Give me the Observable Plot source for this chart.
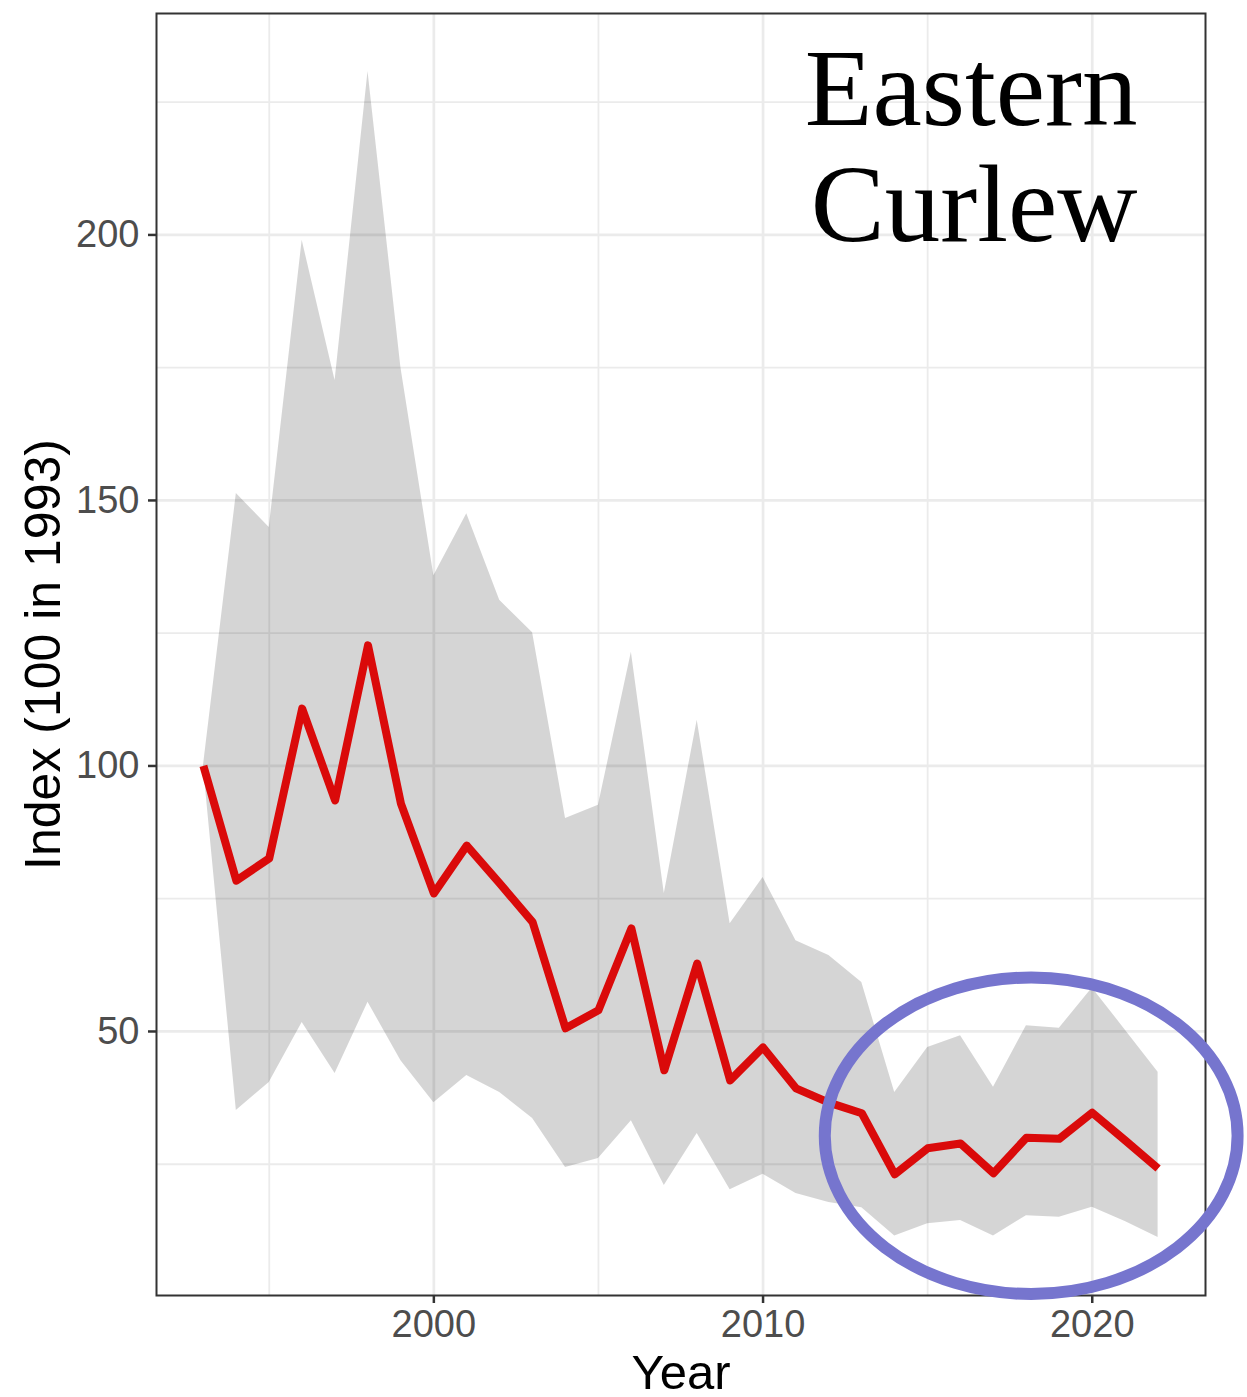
<!DOCTYPE html>
<html>
<head>
<meta charset="utf-8">
<script src="https://cdn.jsdelivr.net/npm/d3@7"></script>
<script src="https://cdn.jsdelivr.net/npm/@observablehq/plot@0.6"></script>
<style>
  html, body { margin: 0; padding: 0; background: #ffffff; }
  #chart { width: 1247px; height: 1397px; }
</style>
</head>
<body>
<div id="chart"></div>
<script>
// ---- data ----
const years = [1993, 1994, 1995, 1996, 1997, 1998, 1999, 2000, 2001, 2002,
               2003, 2004, 2005, 2006, 2007, 2008, 2009, 2010, 2011, 2012,
               2013, 2014, 2015, 2016, 2017, 2018, 2019, 2020, 2021, 2022];
const indexValues = [100, 78.4, 82.6, 110.8, 93.5, 122.7, 92.9, 76.0, 85.0, 77.9,
                     70.6, 50.6, 54.0, 69.4, 42.7, 62.8, 40.8, 47.0, 39.3, 36.6,
                     34.6, 23.1, 28.0, 28.9, 23.3, 30.0, 29.8, 34.7, 29.5, 24.2];
const upperCI = [100, 151.3, 144.9, 199.0, 172.6, 230.8, 175.0, 135.8, 147.5, 131.2,
                 125.1, 90.1, 92.6, 121.4, 76.0, 108.6, 70.3, 79.0, 67.1, 64.3,
                 59.2, 38.5, 47.0, 49.2, 39.5, 51.1, 50.6, 58.2, 50.3, 42.3];
const lowerCI = [100, 35.1, 40.4, 51.7, 42.1, 55.5, 44.5, 36.6, 41.7, 38.5,
                 33.6, 24.4, 26.1, 33.2, 21.0, 30.8, 20.2, 23.1, 19.5, 17.8,
                 16.8, 11.5, 13.8, 14.4, 11.5, 15.3, 15.0, 16.9, 14.2, 11.2];

const xMajorTicks = [2000, 2010, 2020];
const xMinorTicks = [1995, 2005, 2015];
const yMajorTicks = [50, 100, 150, 200];
const yMinorTicks = [25, 75, 125, 175, 225];

const titleText = "Eastern\nCurlew";
const xLabel = "Year";
const yLabel = "Index (100 in 1993)";

// highlight ellipse (data units): centre [year, index], radii [years, index units]
const ellipseCenter = [2018.16, 30.27];
const ellipseRadii = [6.27, 29.8];

// ---- build table ----
const rows = years.map((year, i) => ({year, index: indexValues[i], lower: lowerCI[i], upper: upperCI[i]}));

const ellipseMark = (index, scales) => {
  const {x, y} = scales;
  const cx = x(ellipseCenter[0]);
  const cy = y(ellipseCenter[1]);
  const rx = Math.abs(x(ellipseCenter[0] + ellipseRadii[0]) - cx);
  const ry = Math.abs(y(ellipseCenter[1] + ellipseRadii[1]) - cy);
  const el = document.createElementNS("http://www.w3.org/2000/svg", "ellipse");
  el.setAttribute("cx", cx);
  el.setAttribute("cy", cy);
  el.setAttribute("rx", rx);
  el.setAttribute("ry", ry);
  el.setAttribute("fill", "none");
  el.setAttribute("stroke", "#7675CE");
  el.setAttribute("stroke-width", 12);
  return el;
};

const gridColor = "#EBEBEB";

const chart = Plot.plot({
  width: 1247,
  height: 1397,
  marginLeft: 156,
  marginRight: 42,
  marginTop: 13,
  marginBottom: 102,
  style: {fontFamily: "'Liberation Sans', Arial, sans-serif", background: "#ffffff", overflow: "visible"},
  x: {domain: [1991.575, 2023.44]},
  y: {domain: [0.28, 241.7]},
  marks: [
    Plot.gridX(xMinorTicks, {stroke: gridColor, strokeOpacity: 1, strokeWidth: 1.8}),
    Plot.gridY(yMinorTicks, {stroke: gridColor, strokeOpacity: 1, strokeWidth: 1.8}),
    Plot.gridX(xMajorTicks, {stroke: gridColor, strokeOpacity: 1, strokeWidth: 2.7}),
    Plot.gridY(yMajorTicks, {stroke: gridColor, strokeOpacity: 1, strokeWidth: 2.7}),
    Plot.areaY(rows, {x: "year", y1: "lower", y2: "upper", fill: "#000000", fillOpacity: 0.165}),
    Plot.line(rows, {x: "year", y: "index", stroke: "#DA0A0A", strokeWidth: 8, strokeLinejoin: "round", strokeLinecap: "butt"}),
    Plot.frame({stroke: "#333333", strokeWidth: 2}),
    Plot.axisX(xMajorTicks, {tickSize: 8, tickPadding: 7, fontSize: 38, tickFormat: d => String(d), stroke: "#333333", strokeWidth: 2.5, fill: "#4D4D4D", label: null}),
    Plot.axisY(yMajorTicks, {tickSize: 8, tickPadding: 9, fontSize: 38, tickFormat: d => String(d), stroke: "#333333", strokeWidth: 2.5, fill: "#4D4D4D", label: null}),
    Plot.text([xLabel], {text: d => d, frameAnchor: "bottom", dy: 93, lineAnchor: "bottom", fontSize: 49, fill: "#000000"}),
    Plot.text([yLabel], {text: d => d, frameAnchor: "left", dx: -97, rotate: -90, lineAnchor: "bottom", textAnchor: "middle", fontSize: 50, fill: "#000000"}),
    Plot.text([titleText], {text: d => d, frameAnchor: "top-right", dx: -68, dy: 29, textAnchor: "end", lineAnchor: "top", lineHeight: 1.045, fontSize: 111, fontFamily: "'Liberation Serif', 'DejaVu Serif', serif", fill: "#000000"}),
    ellipseMark
  ]
});

document.getElementById("chart").appendChild(chart);
</script>
</body>
</html>
